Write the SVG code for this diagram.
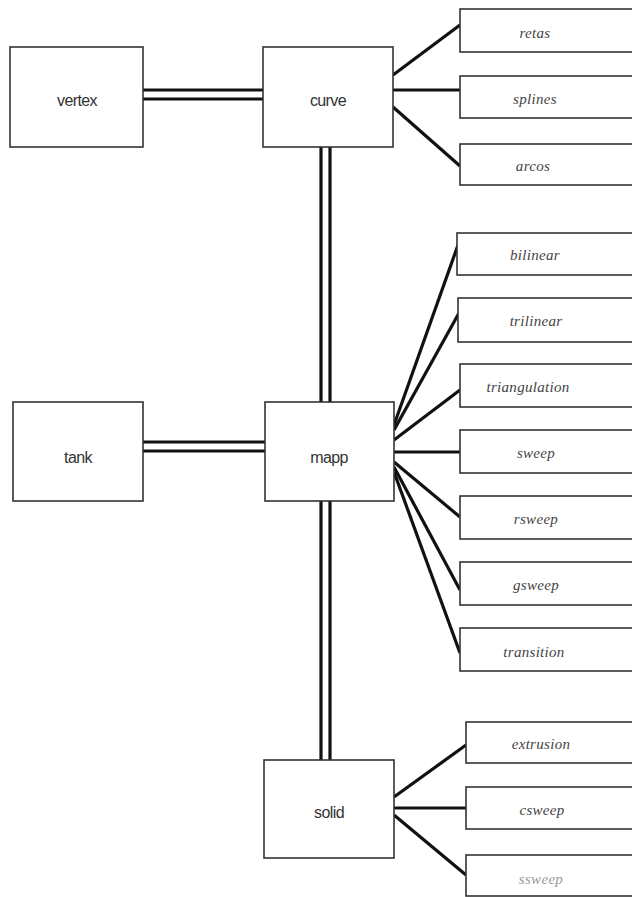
<svg xmlns="http://www.w3.org/2000/svg" width="632" height="897" viewBox="0 0 632 897">
<style>
.box{fill:#fff;stroke:#333;stroke-width:1.6}
.main{font-family:"Liberation Sans",Arial,sans-serif;font-size:16px;fill:#333;text-anchor:middle;letter-spacing:-0.6px}
.leaf{font-family:"Liberation Serif","Times New Roman",serif;font-style:italic;font-size:15px;fill:#444;text-anchor:middle;letter-spacing:0.3px}
.c{stroke:#111;stroke-width:3.2;fill:none}
</style>
<rect width="632" height="897" fill="#fff"/>
<g id="connectors">
<line class="c" x1="143" y1="90" x2="263" y2="90"/>
<line class="c" x1="143" y1="99" x2="263" y2="99"/>
<line class="c" x1="143" y1="442" x2="265" y2="442"/>
<line class="c" x1="143" y1="451" x2="265" y2="451"/>
<line class="c" x1="321" y1="147" x2="321" y2="403"/>
<line class="c" x1="330" y1="147" x2="330" y2="403"/>
<line class="c" x1="321" y1="501" x2="321" y2="760"/>
<line class="c" x1="330" y1="501" x2="330" y2="760"/>
<line class="c" x1="393" y1="75" x2="460" y2="25"/>
<line class="c" x1="393" y1="90" x2="460" y2="90"/>
<line class="c" x1="393" y1="107" x2="460" y2="166"/>
<line class="c" x1="394" y1="425" x2="458" y2="245"/>
<line class="c" x1="394" y1="430" x2="459" y2="313"/>
<line class="c" x1="394" y1="440" x2="460" y2="390"/>
<line class="c" x1="394" y1="452" x2="460" y2="452"/>
<line class="c" x1="394" y1="462" x2="460" y2="517"/>
<line class="c" x1="394" y1="467" x2="460" y2="590"/>
<line class="c" x1="394" y1="472" x2="460" y2="653"/>
<line class="c" x1="394" y1="797" x2="466" y2="745"/>
<line class="c" x1="394" y1="808" x2="466" y2="808"/>
<line class="c" x1="394" y1="815" x2="466" y2="875"/>
</g>
<g id="vertex"><rect class="box" x="10" y="47" width="133" height="100"/><text class="main" x="77" y="106">vertex</text></g>
<g id="curve"><rect class="box" x="263" y="47" width="130" height="100"/><text class="main" x="328" y="106">curve</text></g>
<g id="tank"><rect class="box" x="13" y="402" width="130" height="99"/><text class="main" x="78" y="463">tank</text></g>
<g id="mapp"><rect class="box" x="265" y="402" width="129" height="99"/><text class="main" x="329" y="463">mapp</text></g>
<g id="solid"><rect class="box" x="264" y="760" width="130" height="98"/><text class="main" x="329" y="818">solid</text></g>
<g id="retas"><rect class="box" x="460" y="9" width="220" height="43"/><text class="leaf" x="535" y="38">retas</text></g>
<g id="splines"><rect class="box" x="460" y="76" width="220" height="42"/><text class="leaf" x="535" y="104">splines</text></g>
<g id="arcos"><rect class="box" x="460" y="144" width="220" height="41"/><text class="leaf" x="533" y="171">arcos</text></g>
<g id="bilinear"><rect class="box" x="457" y="233" width="220" height="42"/><text class="leaf" x="535" y="260">bilinear</text></g>
<g id="trilinear"><rect class="box" x="458" y="298" width="220" height="44"/><text class="leaf" x="536" y="326">trilinear</text></g>
<g id="triangulation"><rect class="box" x="460" y="364" width="220" height="43"/><text class="leaf" x="528" y="392">triangulation</text></g>
<g id="sweep"><rect class="box" x="460" y="430" width="220" height="43"/><text class="leaf" x="536" y="458">sweep</text></g>
<g id="rsweep"><rect class="box" x="460" y="496" width="220" height="43"/><text class="leaf" x="536" y="524">rsweep</text></g>
<g id="gsweep"><rect class="box" x="460" y="562" width="220" height="43"/><text class="leaf" x="536" y="590">gsweep</text></g>
<g id="transition"><rect class="box" x="460" y="628" width="220" height="43"/><text class="leaf" x="534" y="657">transition</text></g>
<g id="extrusion"><rect class="box" x="466" y="722" width="220" height="41"/><text class="leaf" x="541" y="749">extrusion</text></g>
<g id="csweep"><rect class="box" x="466" y="787" width="220" height="42"/><text class="leaf" x="542" y="815">csweep</text></g>
<g id="ssweep"><rect class="box" x="466" y="855" width="220" height="41"/><text class="leaf" x="541" y="884" style="fill:#999">ssweep</text></g>
</svg>
